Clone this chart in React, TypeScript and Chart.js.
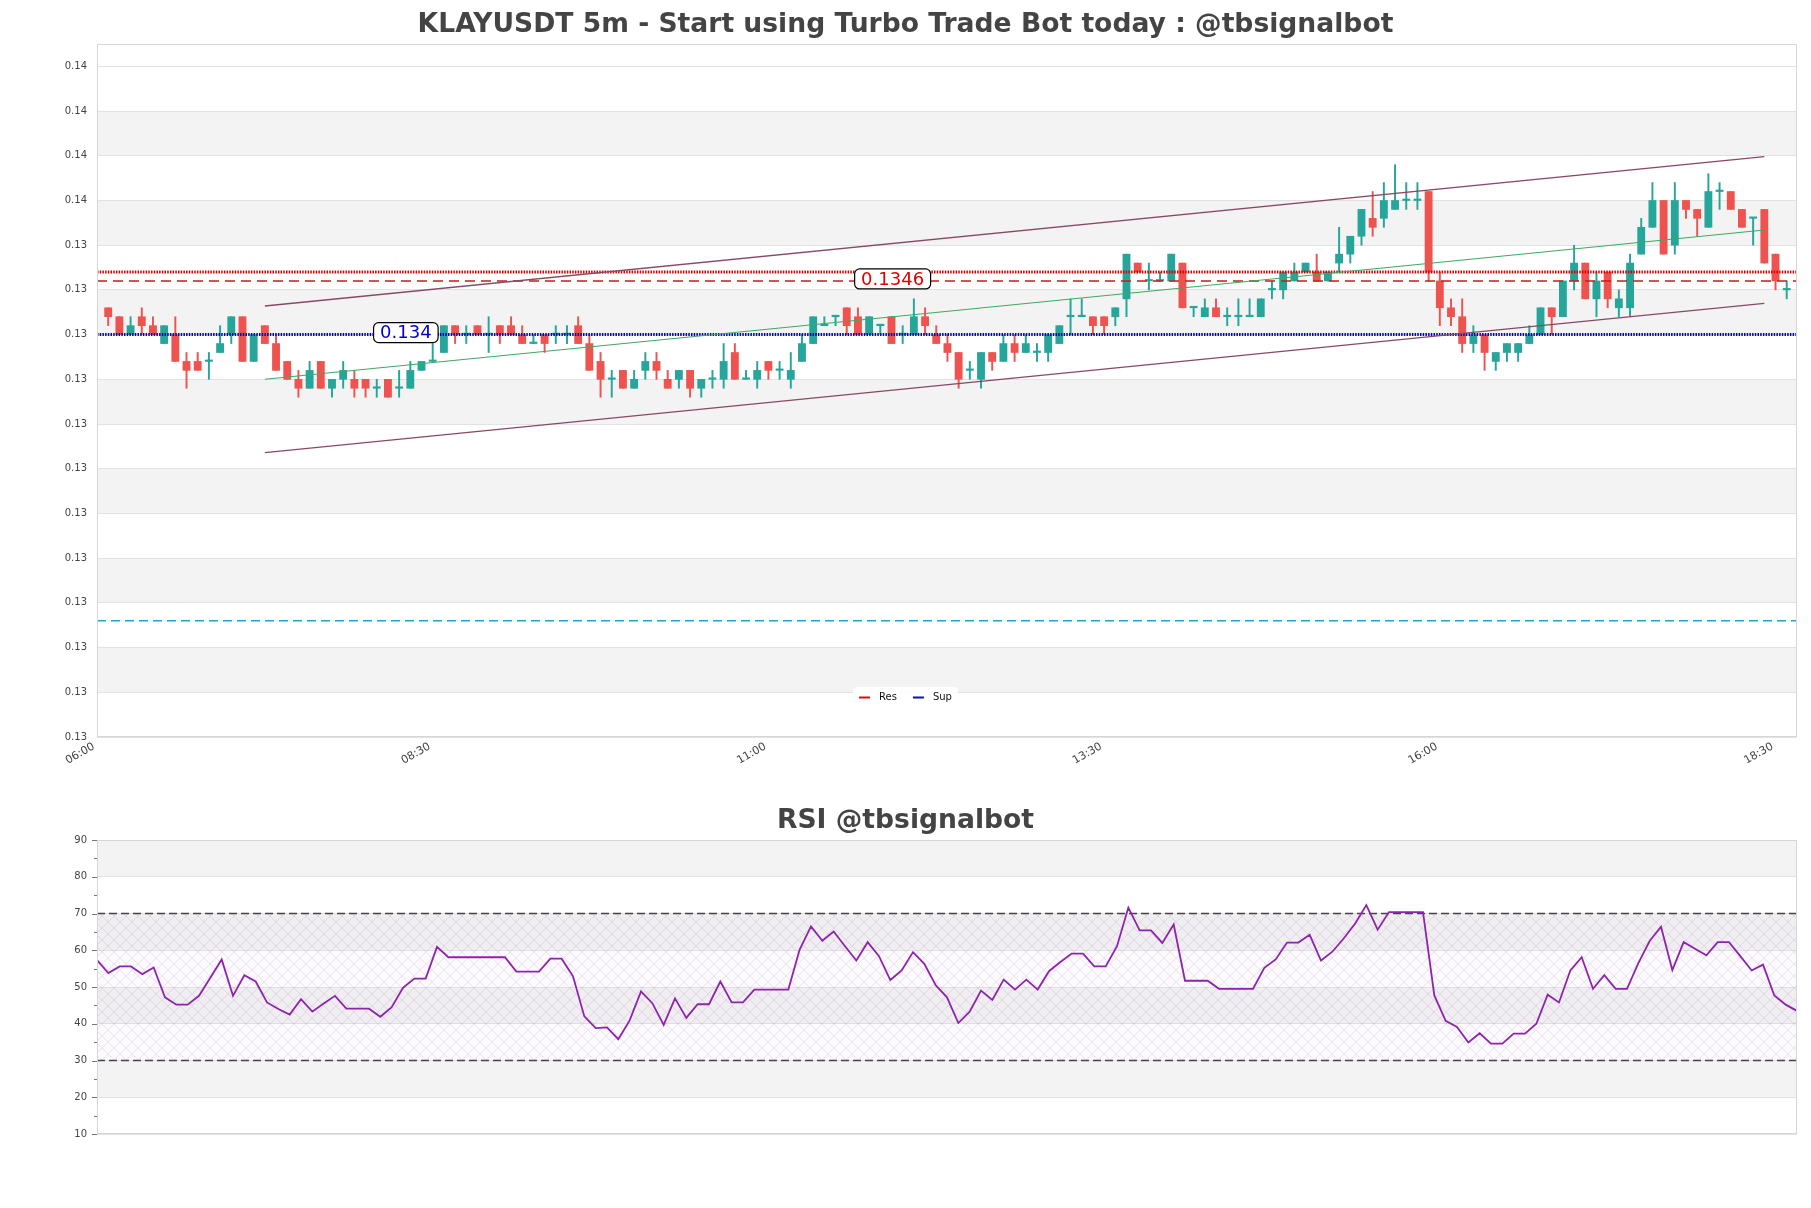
import React, { useEffect, useRef } from 'react';
import { Chart, registerables } from 'chart.js';

Chart.register(...registerables);

const FONT = "'DejaVu Sans', 'Liberation Sans', sans-serif";
Chart.defaults.font.family = FONT;

// ---------------- DATA ----------------
const mainTitle = 'KLAYUSDT 5m - Start using Turbo Trade Bot today : @tbsignalbot';
const rsiTitle = 'RSI @tbsignalbot';

const timeLabels = ['06:00', '08:30', '11:00', '13:30', '16:00', '18:30'];
const timeTickSlots = [0, 30, 60, 90, 120, 150];
const firstCandleSlot = 1;
const slotMax = 151.92;

const priceTicks = [0.1295, 0.13, 0.1305, 0.131, 0.1315, 0.132, 0.1325, 0.133, 0.1335, 0.134, 0.1345, 0.135, 0.1355, 0.136, 0.1365, 0.137];
const priceTickLabels = ['0.13', '0.13', '0.13', '0.13', '0.13', '0.13', '0.13', '0.13', '0.13', '0.13', '0.13', '0.13', '0.14', '0.14', '0.14', '0.14'];
const priceMin = 0.1295;
const priceMax = 0.13725;

const opens = [
  0.1343, 0.1342, 0.134, 0.1342, 0.1341, 0.1339, 0.134, 0.1337, 0.1337, 0.1337,
  0.1338, 0.134, 0.1342, 0.1337, 0.1341, 0.1339, 0.1337, 0.1335, 0.1334, 0.1337,
  0.1334, 0.1335, 0.1335, 0.1335, 0.1334, 0.1335, 0.1334, 0.1334, 0.1336, 0.1337,
  0.1338, 0.1341, 0.134, 0.1341, 0.134, 0.1341, 0.1341, 0.134, 0.1339, 0.134,
  0.134, 0.134, 0.1341, 0.1339, 0.1337, 0.1335, 0.1336, 0.1334, 0.1336, 0.1337,
  0.1335, 0.1335, 0.1336, 0.1334, 0.1335, 0.1335, 0.1338, 0.1335, 0.1335, 0.1337,
  0.1336, 0.1335, 0.1337, 0.1339, 0.1341, 0.1342, 0.1343, 0.1342, 0.134, 0.1341,
  0.1342, 0.134, 0.134, 0.1342, 0.134, 0.1339, 0.1338, 0.1336, 0.1335, 0.1338,
  0.1337, 0.1339, 0.1338, 0.1338, 0.1338, 0.1339, 0.1342, 0.1342, 0.1342, 0.1342,
  0.1342, 0.1344, 0.1348, 0.1346, 0.1346, 0.1346, 0.1348, 0.1343, 0.1342, 0.1343,
  0.1342, 0.1342, 0.1342, 0.1342, 0.1345, 0.1345, 0.1346, 0.1347, 0.1347, 0.1346,
  0.1348, 0.1349, 0.1351, 0.1353, 0.1353, 0.1354, 0.1355, 0.1355, 0.1356, 0.1346,
  0.1343, 0.1342, 0.1339, 0.134, 0.1337, 0.1338, 0.1338, 0.1339, 0.134, 0.1343,
  0.1342, 0.1346, 0.1348, 0.1344, 0.1347, 0.1343, 0.1343, 0.1349, 0.1352, 0.1355,
  0.135, 0.1355, 0.1354, 0.1352, 0.1356, 0.1356, 0.1354, 0.1353, 0.1354, 0.1349,
  0.1345,
];
const highs = [
  0.1343, 0.1342, 0.1342, 0.1343, 0.1342, 0.1341, 0.1342, 0.1338, 0.1338, 0.1338,
  0.1341, 0.1342, 0.1342, 0.134, 0.1341, 0.134, 0.1337, 0.1336, 0.1337, 0.1337,
  0.1335, 0.1337, 0.1336, 0.1335, 0.1335, 0.1335, 0.1336, 0.1337, 0.1337, 0.1339,
  0.1341, 0.1341, 0.1341, 0.1341, 0.1342, 0.1341, 0.1342, 0.1341, 0.134, 0.134,
  0.1341, 0.1341, 0.1342, 0.134, 0.1338, 0.1336, 0.1336, 0.1336, 0.1338, 0.1338,
  0.1336, 0.1336, 0.1336, 0.1335, 0.1336, 0.1339, 0.1339, 0.1336, 0.1337, 0.1337,
  0.1337, 0.1338, 0.134, 0.1342, 0.1342, 0.1342, 0.1343, 0.1343, 0.1342, 0.1341,
  0.1342, 0.1341, 0.1344, 0.1343, 0.1341, 0.134, 0.1338, 0.1337, 0.1338, 0.1338,
  0.134, 0.134, 0.134, 0.1339, 0.134, 0.1341, 0.1344, 0.1344, 0.1342, 0.1342,
  0.1343, 0.1349, 0.1348, 0.1348, 0.1347, 0.1349, 0.1348, 0.1343, 0.1344, 0.1344,
  0.1343, 0.1344, 0.1344, 0.1344, 0.1346, 0.1347, 0.1348, 0.1348, 0.1349, 0.1347,
  0.1352, 0.1351, 0.1354, 0.1356, 0.1357, 0.1359, 0.1357, 0.1357, 0.1356, 0.1347,
  0.1344, 0.1344, 0.1341, 0.134, 0.1338, 0.1339, 0.1339, 0.1341, 0.1343, 0.1343,
  0.1346, 0.135, 0.1348, 0.1347, 0.1347, 0.1345, 0.1349, 0.1353, 0.1357, 0.1355,
  0.1357, 0.1355, 0.1354, 0.1358, 0.1357, 0.1356, 0.1354, 0.1353, 0.1354, 0.1349,
  0.1346,
];
const lows = [
  0.1341, 0.134, 0.134, 0.134, 0.134, 0.1339, 0.1337, 0.1334, 0.1336, 0.1335,
  0.1338, 0.1339, 0.1337, 0.1337, 0.1339, 0.1336, 0.1335, 0.1333, 0.1334, 0.1334,
  0.1333, 0.1334, 0.1333, 0.1333, 0.1333, 0.1333, 0.1333, 0.1334, 0.1336, 0.1337,
  0.1338, 0.1339, 0.1339, 0.134, 0.1338, 0.1339, 0.134, 0.1339, 0.1339, 0.1338,
  0.1339, 0.1339, 0.1339, 0.1336, 0.1333, 0.1333, 0.1334, 0.1334, 0.1335, 0.1335,
  0.1334, 0.1334, 0.1333, 0.1333, 0.1334, 0.1334, 0.1335, 0.1335, 0.1334, 0.1335,
  0.1335, 0.1334, 0.1337, 0.1339, 0.1341, 0.1341, 0.134, 0.134, 0.134, 0.134,
  0.1339, 0.1339, 0.134, 0.134, 0.1339, 0.1337, 0.1334, 0.1335, 0.1334, 0.1336,
  0.1337, 0.1337, 0.1338, 0.1337, 0.1337, 0.1339, 0.134, 0.1342, 0.134, 0.134,
  0.1341, 0.1342, 0.1347, 0.1345, 0.1346, 0.1346, 0.1343, 0.1342, 0.1342, 0.1342,
  0.1341, 0.1341, 0.1342, 0.1342, 0.1344, 0.1344, 0.1346, 0.1347, 0.1346, 0.1346,
  0.1347, 0.1348, 0.135, 0.1351, 0.1352, 0.1354, 0.1354, 0.1354, 0.1346, 0.1341,
  0.1341, 0.1338, 0.1338, 0.1336, 0.1336, 0.1337, 0.1337, 0.1339, 0.134, 0.134,
  0.1342, 0.1345, 0.1344, 0.1342, 0.1343, 0.1342, 0.1342, 0.1349, 0.1352, 0.1349,
  0.1349, 0.1353, 0.1351, 0.1352, 0.1354, 0.1354, 0.1352, 0.135, 0.1348, 0.1345,
  0.1344,
];
const closes = [
  0.1342, 0.134, 0.1341, 0.1341, 0.134, 0.1341, 0.1337, 0.1336, 0.1336, 0.1337,
  0.1339, 0.1342, 0.1337, 0.134, 0.1339, 0.1336, 0.1335, 0.1334, 0.1336, 0.1334,
  0.1335, 0.1336, 0.1334, 0.1334, 0.1334, 0.1333, 0.1334, 0.1336, 0.1337, 0.1337,
  0.1341, 0.134, 0.134, 0.134, 0.134, 0.134, 0.134, 0.1339, 0.1339, 0.1339,
  0.134, 0.134, 0.1339, 0.1336, 0.1335, 0.1335, 0.1334, 0.1335, 0.1337, 0.1336,
  0.1334, 0.1336, 0.1334, 0.1335, 0.1335, 0.1337, 0.1335, 0.1335, 0.1336, 0.1336,
  0.1336, 0.1336, 0.1339, 0.1342, 0.1341, 0.1342, 0.1341, 0.134, 0.1342, 0.1341,
  0.1339, 0.134, 0.1342, 0.1341, 0.1339, 0.1338, 0.1335, 0.1336, 0.1338, 0.1337,
  0.1339, 0.1338, 0.1339, 0.1338, 0.134, 0.1341, 0.1342, 0.1342, 0.1341, 0.1341,
  0.1343, 0.1349, 0.1347, 0.1346, 0.1346, 0.1349, 0.1343, 0.1343, 0.1343, 0.1342,
  0.1342, 0.1342, 0.1342, 0.1344, 0.1345, 0.1347, 0.1347, 0.1348, 0.1346, 0.1347,
  0.1349, 0.1351, 0.1354, 0.1352, 0.1355, 0.1355, 0.1355, 0.1355, 0.1347, 0.1343,
  0.1342, 0.1339, 0.134, 0.1338, 0.1338, 0.1339, 0.1339, 0.134, 0.1343, 0.1342,
  0.1346, 0.1348, 0.1344, 0.1346, 0.1344, 0.1344, 0.1348, 0.1352, 0.1355, 0.1349,
  0.1355, 0.1354, 0.1353, 0.1356, 0.1356, 0.1354, 0.1352, 0.1353, 0.1348, 0.1346,
  0.1345,
];

const resDotLevel = 0.1347;
const resLevel = 0.1346;
const supLevel = 0.134;
const lowDashLevel = 0.1308;
const resTagText = '0.1346';
const supTagText = '0.134';
const resTagSlot = 71.1;
const supTagSlot = 27.6;

const channelSlots = [15, 149];
const channelUpper = [0.13432, 0.13599];
const channelMid = [0.1335, 0.13517];
const channelLower = [0.13268, 0.13435];

const legendNames = ['Res', 'Sup'];

const rsiValues = [
  57.3, 53.8, 55.6, 55.6, 53.5, 55.3, 47.2, 45.2, 45.2, 47.6,
  52.5, 57.5, 47.6, 53.2, 51.5, 45.8, 44.0, 42.5, 46.7, 43.3,
  45.5, 47.6, 44.1, 44.1, 44.1, 41.9, 44.5, 49.8, 52.3, 52.3,
  60.9, 58.1, 58.1, 58.1, 58.1, 58.1, 58.1, 54.2, 54.2, 54.2,
  57.7, 57.7, 52.9, 42.0, 38.8, 39.0, 35.8, 40.9, 48.8, 45.6,
  39.7, 46.9, 41.6, 45.3, 45.3, 51.5, 45.8, 45.8, 49.3, 49.3,
  49.3, 49.3, 60.2, 66.5, 62.6, 65.1, 61.1, 57.2, 62.2, 58.4,
  51.9, 54.5, 59.5, 56.3, 50.5, 47.2, 40.2, 43.3, 49.0, 46.5,
  52.0, 49.3, 52.0, 49.3, 54.3, 56.8, 59.1, 59.1, 55.6, 55.6,
  61.1, 71.6, 65.4, 65.4, 62.0, 67.0, 51.7, 51.7, 51.7, 49.5,
  49.5, 49.5, 49.5, 55.2, 57.5, 62.1, 62.1, 64.2, 57.2, 59.6,
  63.2, 67.2, 72.3, 65.6, 70.4, 70.4, 70.4, 70.4, 47.7, 40.8,
  39.1, 34.9, 37.4, 34.6, 34.6, 37.3, 37.3, 40.0, 47.9, 45.8,
  54.5, 58.1, 49.5, 53.2, 49.5, 49.5, 56.5, 62.5, 66.4, 54.6,
  62.2, 60.4, 58.6, 62.2, 62.2, 58.4, 54.5, 56.1, 47.7, 45.2,
  43.5,
];
const rsiTicks = [10, 20, 30, 40, 50, 60, 70, 80, 90];
const rsiMinorTicks = [15, 25, 35, 45, 55, 65, 75, 85];
const rsiUpper = 70;
const rsiLower = 30;

// ---------------- STYLE ----------------
const UP = '#26a69a';
const DOWN = '#ef5350';
const BAND = '#f3f3f3';
const GRID = '#e2e2e2';
const FRAME = '#d6d6d6';
const TICK_COLOR = '#444';
const TITLE_COLOR = '#444';
const TITLE_FONT = `bold 26.6px ${FONT}`;
const RES_COLOR = '#e00000';
const SUP_COLOR = '#0000d0';
const CHANNEL = '#8a4866';
const MID = '#3daa62';
const CYAN = '#2a9fd6';
const RSI_COLOR = '#8e24aa';

const W = 1811;
const MAIN_H = 790;
const RSI_TOP = 790;
const RSI_H = 1208 - 790;

function roundRect(ctx: CanvasRenderingContext2D, x: number, y: number, w: number, h: number, r: number) {
  ctx.beginPath();
  ctx.moveTo(x + r, y);
  ctx.lineTo(x + w - r, y);
  ctx.arcTo(x + w, y, x + w, y + r, r);
  ctx.lineTo(x + w, y + h - r);
  ctx.arcTo(x + w, y + h, x + w - r, y + h, r);
  ctx.lineTo(x + r, y + h);
  ctx.arcTo(x, y + h, x, y + h - r, r);
  ctx.lineTo(x, y + r);
  ctx.arcTo(x, y, x + r, y, r);
  ctx.closePath();
}

function drawTitle(ctx: CanvasRenderingContext2D, text: string, cx: number, cy: number) {
  ctx.save();
  ctx.font = TITLE_FONT;
  ctx.fillStyle = TITLE_COLOR;
  ctx.textAlign = 'center';
  ctx.textBaseline = 'middle';
  ctx.fillText(text, cx, cy);
  ctx.restore();
}

function drawTag(ctx: CanvasRenderingContext2D, x: number, lineY: number, text: string, color: string) {
  const y = lineY - 2;
  ctx.save();
  ctx.font = `18px ${FONT}`;
  const w = ctx.measureText(text).width;
  const padX = 6.5;
  const h = 20;
  const bx = x - w / 2 - padX;
  const by = y - h / 2;
  roundRect(ctx, bx, by, w + padX * 2, h, 5);
  ctx.fillStyle = '#ffffff';
  ctx.fill();
  ctx.lineWidth = 1.2;
  ctx.strokeStyle = '#000';
  ctx.stroke();
  ctx.fillStyle = color;
  ctx.textAlign = 'center';
  ctx.textBaseline = 'middle';
  ctx.fillText(text, x, y + 1);
  ctx.restore();
}

const mainPlugin = {
  id: 'mainDecor',
  beforeDraw(chart: any) {
    const { ctx, chartArea: a, scales } = chart;
    const y = scales.y;
    ctx.save();
    ctx.fillStyle = '#fff';
    ctx.fillRect(0, 0, chart.width, chart.height);
    for (let k = 0; k < priceTicks.length - 1; k++) {
      if (k % 2 === 1) {
        const y0 = y.getPixelForValue(priceTicks[k]);
        const y1 = y.getPixelForValue(priceTicks[k + 1]);
        ctx.fillStyle = BAND;
        ctx.fillRect(a.left, y1, a.right - a.left, y0 - y1);
      }
    }
    ctx.restore();
    drawTitle(ctx, mainTitle, chart.width / 2, 25.5);
  },
  afterDraw(chart: any) {
    const { ctx, chartArea: a, scales } = chart;
    const x = scales.x;
    const y = scales.y;
    drawTag(ctx, x.getPixelForValue(supTagSlot), y.getPixelForValue(supLevel), supTagText, SUP_COLOR);
    drawTag(ctx, x.getPixelForValue(resTagSlot), y.getPixelForValue(resLevel), resTagText, RES_COLOR);

    // legend
    ctx.save();
    ctx.font = `10px ${FONT}`;
    const sw = 11;
    const gap1 = 9;
    const gap2 = 16;
    const t0 = ctx.measureText(legendNames[0]).width;
    const t1 = ctx.measureText(legendNames[1]).width;
    const inner = sw + gap1 + t0 + gap2 + sw + gap1 + t1;
    const padX = 6;
    const boxW = inner + padX * 2;
    const boxH = 21;
    const cx = chart.width / 2;
    const bx = cx - boxW / 2;
    const by = a.bottom - 50;
    roundRect(ctx, bx, by, boxW, boxH, 4);
    ctx.fillStyle = 'rgba(255,255,255,0.9)';
    ctx.fill();
    const my = by + boxH / 2;
    let px = bx + padX;
    ctx.lineWidth = 2;
    ctx.strokeStyle = '#cc1111';
    ctx.beginPath(); ctx.moveTo(px, my); ctx.lineTo(px + sw, my); ctx.stroke();
    px += sw + gap1;
    ctx.fillStyle = '#111';
    ctx.textBaseline = 'middle';
    ctx.fillText(legendNames[0], px, my);
    px += t0 + gap2;
    ctx.strokeStyle = '#1111aa';
    ctx.beginPath(); ctx.moveTo(px, my); ctx.lineTo(px + sw, my); ctx.stroke();
    px += sw + gap1;
    ctx.fillText(legendNames[1], px, my);

    // frame
    ctx.strokeStyle = FRAME;
    ctx.lineWidth = 1;
    ctx.strokeRect(a.left + 0.5, a.top + 0.5, a.right - a.left - 1, a.bottom - a.top - 1);
    ctx.restore();
  },
};

let hatchPattern: CanvasPattern | null = null;
function getHatch(ctx: CanvasRenderingContext2D) {
  if (hatchPattern) return hatchPattern;
  const c = document.createElement('canvas');
  c.width = 12;
  c.height = 12;
  const g = c.getContext('2d')!;
  g.strokeStyle = 'rgba(140, 110, 165, 0.2)';
  g.lineWidth = 0.8;
  g.beginPath();
  g.moveTo(0, 0); g.lineTo(12, 12);
  g.moveTo(12, 0); g.lineTo(0, 12);
  g.stroke();
  hatchPattern = ctx.createPattern(c, 'repeat');
  return hatchPattern;
}

const rsiPlugin = {
  id: 'rsiDecor',
  beforeDraw(chart: any) {
    const { ctx, chartArea: a, scales } = chart;
    const y = scales.y;
    ctx.save();
    ctx.fillStyle = '#fff';
    ctx.fillRect(0, 0, chart.width, chart.height);
    for (let k = 0; k < rsiTicks.length - 1; k++) {
      if (k % 2 === 1) {
        const y0 = y.getPixelForValue(rsiTicks[k]);
        const y1 = y.getPixelForValue(rsiTicks[k + 1]);
        ctx.fillStyle = BAND;
        ctx.fillRect(a.left, y1, a.right - a.left, y0 - y1);
      }
    }
    ctx.restore();
    drawTitle(ctx, rsiTitle, chart.width / 2, 31.3);
  },
  beforeDatasetsDraw(chart: any) {
    const { ctx, chartArea: a, scales } = chart;
    const y = scales.y;
    const yTop = y.getPixelForValue(rsiUpper);
    const yBot = y.getPixelForValue(rsiLower);
    ctx.save();
    ctx.fillStyle = 'rgba(190, 160, 210, 0.05)';
    ctx.fillRect(a.left, yTop, a.right - a.left, yBot - yTop);
    const p = getHatch(ctx);
    if (p) {
      ctx.fillStyle = p;
      ctx.fillRect(a.left, yTop, a.right - a.left, yBot - yTop);
    }
    ctx.restore();
  },
  afterDraw(chart: any) {
    const { ctx, chartArea: a, scales } = chart;
    const y = scales.y;
    ctx.save();
    ctx.strokeStyle = '#777';
    ctx.lineWidth = 1;
    ctx.beginPath();
    rsiTicks.forEach((v) => {
      const py = Math.round(y.getPixelForValue(v)) + 0.5;
      ctx.moveTo(a.left - 5, py); ctx.lineTo(a.left, py);
    });
    rsiMinorTicks.forEach((v) => {
      const py = Math.round(y.getPixelForValue(v)) + 0.5;
      ctx.moveTo(a.left - 3, py); ctx.lineTo(a.left, py);
    });
    ctx.stroke();
    ctx.strokeStyle = FRAME;
    ctx.strokeRect(a.left + 0.5, a.top + 0.5, a.right - a.left - 1, a.bottom - a.top - 1);
    ctx.restore();
  },
};

function hLine(level: number, color: string, width: number, dash: number[], order: number) {
  return {
    type: 'line' as const,
    data: [{ x: 0, y: level }, { x: slotMax, y: level }],
    borderColor: color,
    borderWidth: width,
    borderDash: dash,
    pointRadius: 0,
    fill: false,
    order,
  };
}

function segLine(vals: number[], color: string, width: number, order: number) {
  return {
    type: 'line' as const,
    data: channelSlots.map((s, i) => ({ x: s, y: vals[i] })),
    borderColor: color,
    borderWidth: width,
    pointRadius: 0,
    fill: false,
    order,
  };
}

function mainConfig(): any {
  const colors = opens.map((o, i) => (closes[i] >= o ? UP : DOWN));
  return {
    type: 'bar',
    data: {
      datasets: [
        {
          type: 'bar',
          data: opens.map((_, i) => ({ x: firstCandleSlot + i, y: [lows[i], highs[i]] })),
          backgroundColor: colors,
          borderWidth: 0,
          barThickness: 1.3,
          grouped: false,
          order: 20,
        },
        {
          type: 'bar',
          data: opens.map((o, i) => ({ x: firstCandleSlot + i, y: [o, closes[i]] })),
          backgroundColor: colors,
          borderWidth: 0,
          barThickness: 7.2,
          minBarLength: 1.5,
          grouped: false,
          order: 19,
        },
        hLine(lowDashLevel, CYAN, 1.3, [9, 5], 5),
        hLine(resDotLevel, RES_COLOR, 3, [1.5, 1.2], 4),
        hLine(resLevel, '#d01818', 1.4, [10, 6], 4),
        hLine(supLevel, SUP_COLOR, 3, [1.5, 1.2], 4),
        segLine(channelUpper, CHANNEL, 1.3, 3),
        segLine(channelLower, CHANNEL, 1.3, 3),
        segLine(channelMid, MID, 1.1, 3),
      ],
    },
    options: {
      responsive: false,
      animation: false,
      events: [],
      layout: { padding: { left: 0, right: W - 1797, top: 44, bottom: 0 } },
      plugins: {
        legend: { display: false },
        tooltip: { enabled: false },
        title: { display: false },
      },
      scales: {
        x: {
          type: 'linear',
          min: 0,
          max: slotMax,
          offset: false,
          afterBuildTicks: (s: any) => { s.ticks = timeTickSlots.map((v) => ({ value: v })); },
          afterFit: (s: any) => { s.height = MAIN_H - 737; },
          ticks: {
            callback: (_v: any, i: number) => timeLabels[i],
            autoSkip: false,
            minRotation: 30,
            maxRotation: 30,
            color: TICK_COLOR,
            font: { size: 11 },
            padding: 3,
            labelOffset: -3,
          },
          grid: { display: false, drawTicks: false },
          border: { display: false },
        },
        y: {
          type: 'linear',
          min: priceMin,
          max: priceMax,
          afterBuildTicks: (s: any) => { s.ticks = priceTicks.map((v) => ({ value: v })); },
          afterFit: (s: any) => { s.width = 97; },
          ticks: {
            callback: (_v: any, i: number) => priceTickLabels[i],
            autoSkip: false,
            color: TICK_COLOR,
            font: { size: 10 },
            padding: 10,
          },
          grid: { color: GRID, drawTicks: false },
          border: { display: false },
        },
      },
    },
    plugins: [mainPlugin],
  };
}

function rsiConfig(): any {
  const lastJ = rsiValues.length - 1;
  return {
    type: 'line',
    data: {
      datasets: [
        {
          data: rsiValues.map((v, j) => ({ x: j, y: v })),
          borderColor: RSI_COLOR,
          borderWidth: 1.8,
          pointRadius: 0,
          tension: 0,
          fill: false,
          order: 0,
        },
        {
          data: [{ x: 0, y: rsiUpper }, { x: lastJ, y: rsiUpper }],
          borderColor: '#444',
          borderWidth: 1.3,
          borderDash: [8, 4],
          pointRadius: 0,
          fill: false,
          order: 1,
        },
        {
          data: [{ x: 0, y: rsiLower }, { x: lastJ, y: rsiLower }],
          borderColor: '#444',
          borderWidth: 1.3,
          borderDash: [8, 4],
          pointRadius: 0,
          fill: false,
          order: 1,
        },
      ],
    },
    options: {
      responsive: false,
      animation: false,
      events: [],
      layout: { padding: { left: 0, right: W - 1797, top: 840 - RSI_TOP, bottom: RSI_H - (1134 - RSI_TOP) } },
      plugins: {
        legend: { display: false },
        tooltip: { enabled: false },
        title: { display: false },
      },
      scales: {
        x: {
          type: 'linear',
          min: 0,
          max: lastJ,
          display: false,
        },
        y: {
          type: 'linear',
          min: rsiTicks[0],
          max: rsiTicks[rsiTicks.length - 1],
          afterBuildTicks: (s: any) => { s.ticks = rsiTicks.map((v) => ({ value: v })); },
          afterFit: (s: any) => { s.width = 97; },
          ticks: {
            callback: (v: any) => String(v),
            autoSkip: false,
            color: TICK_COLOR,
            font: { size: 10 },
            padding: 10,
          },
          grid: { color: GRID, drawTicks: false },
          border: { display: false },
        },
      },
    },
    plugins: [rsiPlugin],
  };
}

export default function App() {
  const mainRef = useRef<HTMLCanvasElement>(null);
  const rsiRef = useRef<HTMLCanvasElement>(null);

  useEffect(() => {
    const main = new Chart(mainRef.current as HTMLCanvasElement, mainConfig());
    const rsi = new Chart(rsiRef.current as HTMLCanvasElement, rsiConfig());
    return () => {
      main.destroy();
      rsi.destroy();
    };
  }, []);

  return (
    <div style={{ position: 'absolute', left: 0, top: 0, width: W, height: 1208, background: '#fff' }}>
      <canvas ref={mainRef} width={W} height={MAIN_H} style={{ position: 'absolute', left: 0, top: 0, display: 'block' }} />
      <canvas ref={rsiRef} width={W} height={RSI_H} style={{ position: 'absolute', left: 0, top: RSI_TOP, display: 'block' }} />
    </div>
  );
}
